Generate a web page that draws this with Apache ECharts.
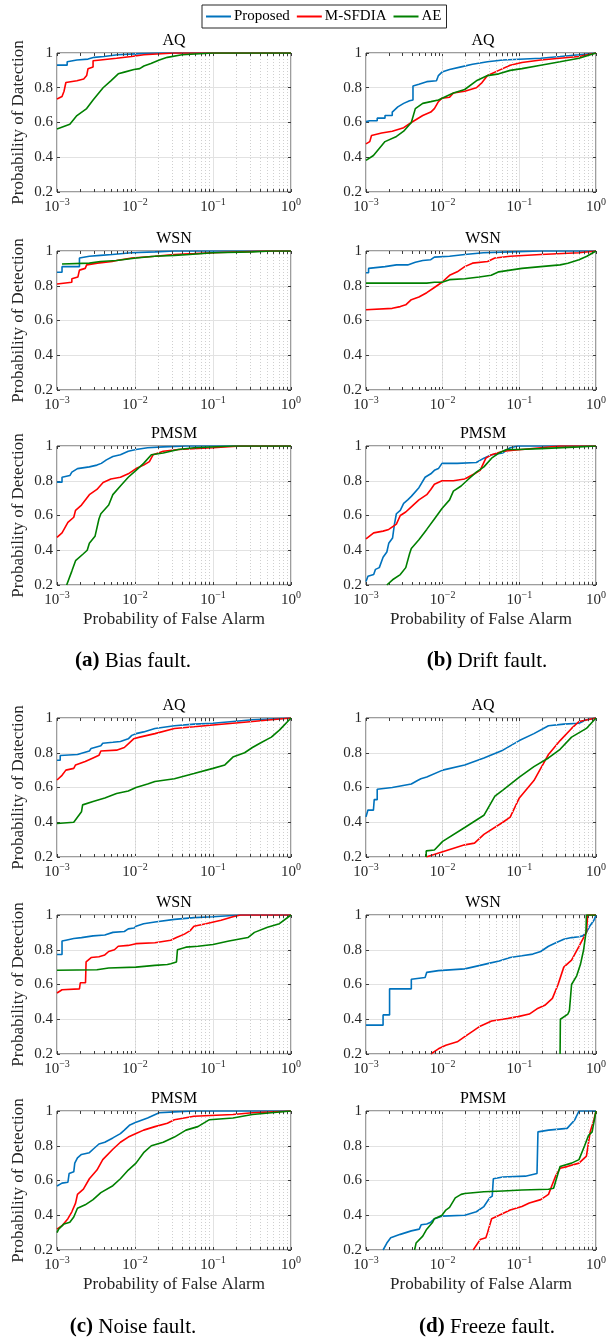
<!DOCTYPE html>
<html>
<head>
<meta charset="utf-8">
<script src="https://cdn.jsdelivr.net/npm/echarts@6/dist/echarts.min.js"></script>
<style>
html, body { margin: 0; padding: 0; background: #fff; }
#main { width: 609px; height: 1339px; }
</style>
</head>
<body>
<div id="main"></div>
<script>
// ROC curves: [false alarm, detection]
// (a) Bias fault
var bias_AQ_prop = [[0.001,0.93],[0.00135,0.93],[0.00135,0.95],[0.0018,0.96],[0.0025,0.965],[0.003,0.975],[0.004,0.98],[0.006,0.99],[0.01,0.995],[0.02,1],[1,1]];
var bias_AQ_msf = [[0.001,0.735],[0.00116,0.75],[0.00123,0.78],[0.0013,0.78],[0.0013,0.83],[0.0018,0.84],[0.0022,0.85],[0.0024,0.87],[0.0025,0.91],[0.0029,0.92],[0.0029,0.955],[0.0036,0.96],[0.0058,0.97],[0.009,0.98],[0.013,0.99],[0.032,1],[1,1]];
var bias_AQ_ae = [[0.001,0.563],[0.00146,0.59],[0.0018,0.64],[0.0024,0.68],[0.0029,0.73],[0.0039,0.8],[0.0049,0.84],[0.0061,0.88],[0.0073,0.89],[0.0097,0.905],[0.0115,0.91],[0.013,0.925],[0.016,0.94],[0.0205,0.96],[0.026,0.975],[0.04,0.99],[0.1,1],[1,1]];

// (b) Drift fault
var drift_AQ_prop = [[0.001,0.605],[0.00112,0.61],[0.0014,0.61],[0.0014,0.625],[0.00177,0.625],[0.00177,0.64],[0.0022,0.64],[0.0022,0.66],[0.0026,0.69],[0.0031,0.71],[0.0037,0.725],[0.0041,0.73],[0.0041,0.81],[0.0049,0.82],[0.0062,0.835],[0.0083,0.84],[0.0088,0.87],[0.0098,0.89],[0.0123,0.905],[0.0174,0.92],[0.0245,0.935],[0.0385,0.95],[0.061,0.96],[0.19,0.97],[0.34,0.98],[0.6,0.99],[1,1]];
var drift_AQ_msf = [[0.001,0.477],[0.00112,0.49],[0.00118,0.525],[0.0016,0.54],[0.0022,0.55],[0.0031,0.57],[0.0039,0.6],[0.0055,0.64],[0.007,0.66],[0.0078,0.68],[0.0088,0.72],[0.0098,0.74],[0.0123,0.745],[0.0138,0.77],[0.0194,0.78],[0.0275,0.8],[0.0326,0.83],[0.0385,0.87],[0.054,0.9],[0.076,0.93],[0.108,0.945],[0.19,0.96],[0.6,0.98],[1,1]];
var drift_AQ_ae = [[0.001,0.382],[0.00125,0.41],[0.00177,0.49],[0.0025,0.52],[0.0031,0.55],[0.0039,0.6],[0.0044,0.68],[0.0055,0.71],[0.007,0.72],[0.0088,0.73],[0.011,0.75],[0.0138,0.77],[0.0194,0.79],[0.0275,0.84],[0.0385,0.87],[0.054,0.88],[0.076,0.9],[0.108,0.91],[0.19,0.93],[0.34,0.95],[0.6,0.97],[1,1]];

var bias_WSN_prop = [[0.001,0.878],[0.00116,0.878],[0.00116,0.91],[0.00194,0.91],[0.00194,0.96],[0.0026,0.97],[0.0036,0.975],[0.0051,0.98],[0.009,0.99],[0.018,0.995],[0.032,1],[1,1]];
var bias_WSN_msf = [[0.001,0.81],[0.00155,0.82],[0.00155,0.84],[0.00185,0.85],[0.00194,0.85],[0.00194,0.89],[0.0023,0.9],[0.0024,0.92],[0.0033,0.93],[0.0051,0.94],[0.0058,0.945],[0.0091,0.96],[0.018,0.97],[0.032,0.98],[0.057,0.985],[0.1,0.99],[0.46,1],[1,1]];
var bias_WSN_ae = [[0.00116,0.925],[0.0026,0.93],[0.0036,0.94],[0.0058,0.945],[0.006,0.955],[0.0103,0.96],[0.018,0.97],[0.032,0.975],[0.05,0.98],[0.05,0.985],[0.1,0.99],[0.32,0.995],[0.56,1],[1,1]];

var drift_WSN_prop = [[0.001,0.875],[0.00108,0.875],[0.00108,0.9],[0.00177,0.91],[0.0025,0.92],[0.0035,0.92],[0.0044,0.935],[0.0055,0.945],[0.007,0.95],[0.0078,0.965],[0.0123,0.97],[0.0194,0.98],[0.034,0.99],[0.076,0.995],[0.19,1],[1,1]];
var drift_WSN_msf = [[0.001,0.662],[0.0022,0.67],[0.0028,0.68],[0.0033,0.69],[0.0039,0.72],[0.0049,0.735],[0.0062,0.76],[0.0078,0.79],[0.0098,0.82],[0.0123,0.86],[0.0155,0.88],[0.0194,0.91],[0.0245,0.93],[0.0385,0.94],[0.048,0.96],[0.076,0.97],[0.19,0.98],[0.6,0.99],[1,1]];
var drift_WSN_ae = [[0.001,0.815],[0.0062,0.815],[0.0078,0.82],[0.0098,0.82],[0.0123,0.835],[0.0194,0.84],[0.03,0.85],[0.043,0.86],[0.054,0.88],[0.076,0.89],[0.108,0.9],[0.19,0.91],[0.34,0.92],[0.43,0.93],[0.6,0.95],[0.76,0.97],[1,1]];

var bias_PMSM_prop = [[0.001,0.792],[0.00116,0.792],[0.00116,0.82],[0.00146,0.83],[0.00155,0.85],[0.00183,0.87],[0.0026,0.88],[0.00325,0.89],[0.0037,0.9],[0.0043,0.92],[0.0052,0.94],[0.0065,0.95],[0.0082,0.97],[0.0103,0.98],[0.0145,0.99],[0.023,0.995],[0.045,1],[1,1]];
var bias_PMSM_msf = [[0.001,0.474],[0.00116,0.5],[0.00138,0.56],[0.00164,0.59],[0.00173,0.63],[0.00206,0.66],[0.0026,0.72],[0.00325,0.75],[0.0039,0.79],[0.0049,0.81],[0.0065,0.82],[0.0082,0.84],[0.0103,0.87],[0.0129,0.89],[0.0153,0.91],[0.0171,0.95],[0.023,0.97],[0.036,0.98],[0.1,0.99],[0.225,1],[1,1]];
var bias_PMSM_ae = [[0.00133,0.2],[0.00155,0.28],[0.00173,0.34],[0.00218,0.38],[0.00244,0.4],[0.0026,0.44],[0.00307,0.48],[0.00345,0.58],[0.00365,0.61],[0.0046,0.66],[0.0052,0.72],[0.0065,0.77],[0.0082,0.82],[0.0103,0.86],[0.0129,0.9],[0.0162,0.95],[0.023,0.96],[0.036,0.98],[0.057,0.99],[0.18,1],[1,1]];

var drift_PMSM_prop = [[0.001,0.22],[0.00106,0.22],[0.00106,0.25],[0.00126,0.26],[0.00133,0.29],[0.00149,0.3],[0.00167,0.36],[0.00187,0.39],[0.00198,0.44],[0.00222,0.47],[0.00235,0.55],[0.00249,0.61],[0.0028,0.63],[0.0031,0.67],[0.0035,0.69],[0.0039,0.71],[0.0049,0.76],[0.0059,0.82],[0.007,0.84],[0.0078,0.86],[0.0088,0.87],[0.0098,0.9],[0.0155,0.9],[0.0275,0.905],[0.0345,0.93],[0.0435,0.95],[0.061,0.96],[0.076,0.99],[0.096,1],[1,1]];
var drift_PMSM_msf = [[0.001,0.465],[0.00126,0.5],[0.00167,0.51],[0.00198,0.52],[0.00249,0.55],[0.0028,0.6],[0.0033,0.62],[0.0039,0.65],[0.0049,0.69],[0.0062,0.72],[0.007,0.75],[0.0078,0.78],[0.0098,0.8],[0.0138,0.8],[0.0194,0.81],[0.026,0.84],[0.0308,0.86],[0.0366,0.93],[0.0435,0.95],[0.061,0.97],[0.108,0.98],[0.19,0.99],[0.34,1],[1,1]];
var drift_PMSM_ae = [[0.00187,0.2],[0.00222,0.23],[0.0028,0.26],[0.0033,0.3],[0.0037,0.38],[0.0039,0.41],[0.0049,0.46],[0.0062,0.52],[0.0078,0.58],[0.0098,0.64],[0.0123,0.69],[0.0138,0.74],[0.0174,0.77],[0.0218,0.81],[0.0275,0.85],[0.0345,0.88],[0.0435,0.93],[0.0546,0.96],[0.068,0.98],[0.096,0.98],[0.19,0.985],[0.6,0.995],[1,1]];

// (c) Noise fault
var noise_AQ_prop = [[0.001,0.757],[0.0011,0.757],[0.0011,0.784],[0.00183,0.79],[0.00218,0.8],[0.0026,0.81],[0.00274,0.825],[0.00365,0.84],[0.00386,0.855],[0.0052,0.86],[0.0065,0.865],[0.0082,0.88],[0.0091,0.9],[0.0103,0.91],[0.0129,0.92],[0.018,0.94],[0.032,0.955],[0.057,0.965],[0.1,0.97],[0.18,0.98],[0.32,0.99],[1,1]];
var noise_AQ_msf = [[0.001,0.643],[0.00116,0.67],[0.0013,0.7],[0.00164,0.71],[0.00173,0.73],[0.0023,0.75],[0.0029,0.77],[0.00345,0.785],[0.00365,0.81],[0.0058,0.815],[0.0073,0.83],[0.0086,0.86],[0.0096,0.88],[0.0115,0.89],[0.018,0.91],[0.032,0.94],[0.057,0.95],[0.1,0.96],[0.18,0.97],[0.32,0.98],[0.56,0.99],[1,1]];
var noise_AQ_ae = [[0.001,0.393],[0.00164,0.4],[0.00206,0.46],[0.00213,0.46],[0.00213,0.5],[0.0029,0.52],[0.0041,0.54],[0.0058,0.565],[0.0082,0.58],[0.0103,0.6],[0.0145,0.62],[0.018,0.635],[0.032,0.65],[0.057,0.68],[0.1,0.71],[0.142,0.73],[0.18,0.775],[0.254,0.8],[0.32,0.83],[0.4,0.855],[0.56,0.89],[0.71,0.93],[1,1]];

// (d) Freeze fault
var freeze_AQ_prop = [[0.001,0.431],[0.00106,0.431],[0.00106,0.47],[0.00125,0.47],[0.00128,0.53],[0.0014,0.53],[0.0014,0.59],[0.0022,0.6],[0.0023,0.61],[0.0039,0.62],[0.0047,0.64],[0.0052,0.65],[0.0062,0.66],[0.01,0.7],[0.0194,0.73],[0.0345,0.77],[0.061,0.815],[0.1,0.87],[0.155,0.91],[0.24,0.955],[0.38,0.965],[0.6,0.97],[0.75,0.99],[1,1]];
var freeze_AQ_msf = [[0.0061,0.2],[0.01,0.23],[0.0194,0.27],[0.026,0.28],[0.0345,0.33],[0.061,0.4],[0.076,0.43],[0.1,0.54],[0.155,0.64],[0.19,0.71],[0.24,0.79],[0.34,0.87],[0.48,0.94],[0.6,0.98],[1,1]];
var freeze_AQ_ae = [[0.0061,0.2],[0.0061,0.235],[0.0078,0.24],[0.01,0.29],[0.0194,0.37],[0.0345,0.44],[0.048,0.55],[0.061,0.585],[0.1,0.66],[0.155,0.72],[0.24,0.77],[0.34,0.82],[0.48,0.89],[0.75,0.94],[1,1]];

var noise_WSN_prop = [[0.001,0.773],[0.00116,0.773],[0.00116,0.85],[0.0013,0.855],[0.00164,0.865],[0.00206,0.87],[0.0029,0.88],[0.0041,0.885],[0.0052,0.9],[0.0073,0.905],[0.0082,0.92],[0.0097,0.925],[0.0103,0.935],[0.0129,0.95],[0.018,0.96],[0.032,0.975],[0.057,0.985],[0.1,0.99],[0.225,1],[1,1]];
var noise_WSN_msf = [[0.001,0.551],[0.00116,0.57],[0.00194,0.575],[0.00199,0.61],[0.00232,0.61],[0.00236,0.73],[0.00274,0.755],[0.00345,0.76],[0.0041,0.77],[0.0046,0.79],[0.00545,0.8],[0.0061,0.82],[0.0082,0.825],[0.0103,0.835],[0.018,0.84],[0.0287,0.855],[0.034,0.87],[0.043,0.89],[0.051,0.91],[0.057,0.935],[0.081,0.95],[0.127,0.97],[0.18,0.99],[0.225,1],[1,1]];
var noise_WSN_ae = [[0.001,0.682],[0.00325,0.685],[0.0046,0.695],[0.0103,0.7],[0.018,0.71],[0.026,0.715],[0.0287,0.72],[0.034,0.73],[0.035,0.8],[0.045,0.815],[0.064,0.82],[0.1,0.83],[0.16,0.85],[0.28,0.87],[0.34,0.9],[0.5,0.93],[0.71,0.95],[1,1]];

var freeze_WSN_prop = [[0.001,0.366],[0.00167,0.366],[0.00167,0.425],[0.00203,0.425],[0.00203,0.575],[0.0039,0.575],[0.0039,0.63],[0.0059,0.64],[0.0062,0.67],[0.0088,0.68],[0.0194,0.69],[0.0308,0.71],[0.0385,0.72],[0.0546,0.735],[0.076,0.755],[0.108,0.765],[0.15,0.775],[0.19,0.79],[0.24,0.82],[0.3,0.84],[0.38,0.86],[0.48,0.87],[0.6,0.875],[0.67,0.88],[0.75,0.9],[0.84,0.94],[0.94,0.97],[1,1]];
var freeze_WSN_msf = [[0.007,0.2],[0.0088,0.23],[0.011,0.25],[0.0155,0.27],[0.0194,0.3],[0.0245,0.33],[0.0308,0.36],[0.0435,0.39],[0.061,0.4],[0.096,0.415],[0.135,0.43],[0.17,0.46],[0.215,0.48],[0.27,0.52],[0.32,0.6],[0.38,0.7],[0.48,0.74],[0.6,0.82],[0.67,0.86],[0.75,0.9],[0.78,1],[1,1]];
var freeze_WSN_ae = [[0.34,0.2],[0.343,0.4],[0.43,0.43],[0.45,0.45],[0.48,0.6],[0.56,0.65],[0.63,0.72],[0.69,0.8],[0.74,0.9],[0.75,1],[1,1]];

var noise_PMSM_prop = [[0.001,0.568],[0.00116,0.585],[0.00138,0.59],[0.00143,0.64],[0.00164,0.65],[0.00169,0.7],[0.00183,0.73],[0.00206,0.75],[0.0026,0.76],[0.0029,0.78],[0.00345,0.81],[0.0041,0.82],[0.0052,0.845],[0.0065,0.87],[0.0073,0.89],[0.0086,0.92],[0.0103,0.935],[0.0145,0.96],[0.0204,0.99],[0.032,0.995],[0.057,1],[1,1]];
var noise_PMSM_msf = [[0.001,0.32],[0.00116,0.34],[0.00138,0.38],[0.00155,0.42],[0.00173,0.47],[0.00183,0.52],[0.00218,0.55],[0.0026,0.61],[0.00325,0.66],[0.00386,0.72],[0.0052,0.78],[0.0065,0.82],[0.0082,0.85],[0.0103,0.87],[0.0129,0.89],[0.018,0.91],[0.026,0.93],[0.032,0.95],[0.057,0.97],[0.18,0.98],[0.32,0.99],[1,1]];
var noise_PMSM_ae = [[0.001,0.3],[0.00105,0.32],[0.00123,0.35],[0.00146,0.36],[0.00164,0.39],[0.00183,0.44],[0.0023,0.46],[0.0029,0.49],[0.00365,0.53],[0.0052,0.57],[0.0065,0.61],[0.0082,0.66],[0.0103,0.7],[0.0129,0.76],[0.0162,0.8],[0.023,0.82],[0.032,0.85],[0.045,0.89],[0.064,0.91],[0.09,0.95],[0.18,0.96],[0.32,0.98],[0.56,0.99],[1,1]];

var freeze_PMSM_prop = [[0.00167,0.2],[0.00187,0.24],[0.0021,0.27],[0.0028,0.29],[0.0039,0.31],[0.00495,0.32],[0.00524,0.345],[0.0062,0.35],[0.007,0.36],[0.0078,0.38],[0.0098,0.395],[0.0194,0.4],[0.0275,0.42],[0.0345,0.45],[0.041,0.5],[0.0443,0.51],[0.0458,0.61],[0.061,0.62],[0.12,0.625],[0.17,0.64],[0.175,0.88],[0.24,0.89],[0.42,0.9],[0.53,0.95],[0.6,1],[1,1]];
var freeze_PMSM_msf = [[0.025,0.2],[0.0308,0.26],[0.0366,0.27],[0.0385,0.3],[0.0435,0.38],[0.0546,0.4],[0.076,0.43],[0.108,0.45],[0.135,0.47],[0.19,0.49],[0.24,0.52],[0.3,0.63],[0.34,0.67],[0.42,0.68],[0.6,0.7],[0.75,0.74],[0.84,0.88],[0.94,0.95],[1,1]];
var freeze_PMSM_ae = [[0.0043,0.2],[0.0045,0.24],[0.0055,0.28],[0.0062,0.32],[0.0074,0.36],[0.0078,0.38],[0.0088,0.39],[0.0098,0.4],[0.011,0.43],[0.0123,0.445],[0.0146,0.5],[0.0174,0.52],[0.0194,0.525],[0.0345,0.535],[0.061,0.54],[0.108,0.545],[0.24,0.55],[0.28,0.555],[0.3,0.6],[0.34,0.68],[0.48,0.7],[0.6,0.72],[0.71,0.8],[0.8,0.86],[0.89,0.88],[1,1]];

var methods = ['Proposed', 'M-SFDIA', 'AE'];
var colors = ['#0072BD', '#FF0000', '#008000'];
var minorX = [2,3,4,5,6,7,8,9].map(function (k) { return k * 0.001; })
    .concat([2,3,4,5,6,7,8,9].map(function (k) { return k * 0.01; }))
    .concat([2,3,4,5,6,7,8,9].map(function (k) { return k * 0.1; }));

var panels = [
    {title: 'AQ', lines: [bias_AQ_prop, bias_AQ_msf, bias_AQ_ae]},
    {title: 'AQ', lines: [drift_AQ_prop, drift_AQ_msf, drift_AQ_ae]},
    {title: 'WSN', lines: [bias_WSN_prop, bias_WSN_msf, bias_WSN_ae]},
    {title: 'WSN', lines: [drift_WSN_prop, drift_WSN_msf, drift_WSN_ae]},
    {title: 'PMSM', lines: [bias_PMSM_prop, bias_PMSM_msf, bias_PMSM_ae]},
    {title: 'PMSM', lines: [drift_PMSM_prop, drift_PMSM_msf, drift_PMSM_ae]},
    {title: 'AQ', lines: [noise_AQ_prop, noise_AQ_msf, noise_AQ_ae]},
    {title: 'AQ', lines: [freeze_AQ_prop, freeze_AQ_msf, freeze_AQ_ae]},
    {title: 'WSN', lines: [noise_WSN_prop, noise_WSN_msf, noise_WSN_ae]},
    {title: 'WSN', lines: [freeze_WSN_prop, freeze_WSN_msf, freeze_WSN_ae]},
    {title: 'PMSM', lines: [noise_PMSM_prop, noise_PMSM_msf, noise_PMSM_ae]},
    {title: 'PMSM', lines: [freeze_PMSM_prop, freeze_PMSM_msf, freeze_PMSM_ae]}
];
var yNames = ['Probability of Datection', 'Probability of Detection', 'Probability of Detection',
              'Probability of Datection', 'Probability of Detection', 'Probability of Detection'];
var captions = [['(a)', ' Bias fault.'], ['(b)', ' Drift fault.'], ['(c)', ' Noise fault.'], ['(d)', ' Freeze fault.']];

var FONT = '"Liberation Serif", "Times New Roman", serif';
var AXC = '#3a3a3a';
var rowTop = [53, 251, 446, 718, 915, 1111];
var colLeft = [57, 366];
var W = 234, H = 139;

var chart = echarts.init(document.getElementById('main'));

var grids = [], xAxes = [], yAxes = [], series = [], graphics = [];

function xLabel(v) {
    var e = Math.round(Math.log(v) / Math.LN10);
    return '{b|10}{s|' + (e < 0 ? '\u2212' + (-e) : '' + e) + '}';
}

panels.forEach(function (p, i) {
    var r = Math.floor(i / 2), c = i % 2;
    var bottomRow = (r === 2 || r === 5);
    grids.push({
        left: colLeft[c], top: rowTop[r], width: W, height: H,
        show: true, borderColor: AXC, borderWidth: 1, backgroundColor: '#fff'
    });
    xAxes.push({
        type: 'log', logBase: 10, gridIndex: i, min: 0.001, max: 1,
        axisLine: {show: false, onZero: false},
        axisTick: {inside: true, length: 3, lineStyle: {color: AXC}},
        splitLine: {show: true, lineStyle: {color: '#e2e2e2', width: 1}},
        axisLabel: {
            formatter: xLabel, margin: 5, showMinLabel: true, showMaxLabel: true,
            rich: {
                b: {fontFamily: FONT, fontSize: 15, color: '#262626', lineHeight: 20},
                s: {fontFamily: FONT, fontSize: 10, color: '#262626', lineHeight: 10, verticalAlign: 'top'}
            }
        },
        name: bottomRow ? 'Probability of False Alarm' : '',
        nameLocation: 'middle', nameGap: 26,
        nameTextStyle: {fontFamily: FONT, fontSize: 17, color: '#262626'}
    });
    xAxes.push({
        type: 'log', logBase: 10, gridIndex: i, min: 0.001, max: 1, position: 'top',
        axisLine: {show: false, onZero: false},
        axisTick: {inside: true, length: 3, lineStyle: {color: AXC}},
        axisLabel: {show: false}, splitLine: {show: false}
    });
    yAxes.push({
        type: 'value', gridIndex: i, min: 0.2, max: 1, interval: 0.2,
        axisLine: {show: false, onZero: false},
        axisTick: {inside: true, length: 3, lineStyle: {color: AXC}},
        splitLine: {show: true, lineStyle: {color: '#e2e2e2', width: 1}},
        axisLabel: {
            margin: 4, fontFamily: FONT, fontSize: 15, color: '#262626',
            formatter: function (v) { return v === 1 ? '1' : v.toFixed(1); }
        },
        name: c === 0 ? yNames[r] : '',
        nameLocation: 'middle', nameGap: 30,
        nameTextStyle: {fontFamily: FONT, fontSize: 17, color: '#262626'}
    });
    yAxes.push({
        type: 'value', gridIndex: i, min: 0.2, max: 1, interval: 0.2, position: 'right',
        axisLine: {show: false, onZero: false},
        axisTick: {inside: true, length: 3, lineStyle: {color: AXC}},
        axisLabel: {show: false}, splitLine: {show: false}
    });

    // dotted minor grid and minor ticks at 2..9 of each decade
    var tickPairs = [];
    minorX.forEach(function (v) {
        tickPairs.push([{coord: [v, 0.2]}, {coord: [v, 0.217]}]);
        tickPairs.push([{coord: [v, 1]}, {coord: [v, 0.983]}]);
    });
    series.push({
        type: 'line', xAxisIndex: 2 * i, yAxisIndex: 2 * i, data: [], z: 1, silent: true,
        markLine: {
            silent: true, symbol: ['none', 'none'], animation: false, label: {show: false},
            lineStyle: {type: [1, 2], color: '#cfcfcf', width: 1},
            data: minorX.map(function (v) { return {xAxis: v}; })
        }
    });
    series.push({
        type: 'line', xAxisIndex: 2 * i, yAxisIndex: 2 * i, data: [], z: 1, silent: true,
        markLine: {
            silent: true, symbol: ['none', 'none'], animation: false, label: {show: false},
            lineStyle: {type: 'solid', color: AXC, width: 1},
            data: tickPairs
        }
    });

    p.lines.forEach(function (d, k) {
        series.push({
            name: methods[k], type: 'line', xAxisIndex: 2 * i, yAxisIndex: 2 * i,
            data: d, symbol: 'none', showSymbol: false, z: 3 + k,
            lineStyle: {color: colors[k], width: 1.6},
            itemStyle: {color: colors[k]}
        });
    });

    graphics.push({
        type: 'text', x: colLeft[c] + W / 2, y: rowTop[r] - 12,
        style: {text: p.title, fontFamily: FONT, fontSize: 16, fill: '#000', align: 'center', verticalAlign: 'middle'}
    });
});

captions.forEach(function (cap, j) {
    graphics.push({
        type: 'text', x: j % 2 === 0 ? 133 : 487, y: j < 2 ? 661 : 1327,
        style: {
            text: '{b|' + cap[0] + '}' + cap[1], fontFamily: FONT, fontSize: 21, fill: '#000',
            align: 'center', verticalAlign: 'middle',
            rich: {b: {fontFamily: FONT, fontSize: 21, fontWeight: 'bold', fill: '#000'}}
        }
    });
});

var option = {
    animation: false,
    backgroundColor: '#fff',
    legend: {
        data: methods, left: 202, top: 5,
        icon: 'rect', itemWidth: 25, itemHeight: 2, itemGap: 7,
        padding: [4, 5, 4, 4],
        borderColor: '#262626', borderWidth: 1,
        textStyle: {fontFamily: FONT, fontSize: 15, color: '#000', padding: [0, 0, 0, -2]}
    },
    grid: grids,
    xAxis: xAxes,
    yAxis: yAxes,
    series: series,
    graphic: graphics
};
chart.setOption(option);
</script>
</body>
</html>
